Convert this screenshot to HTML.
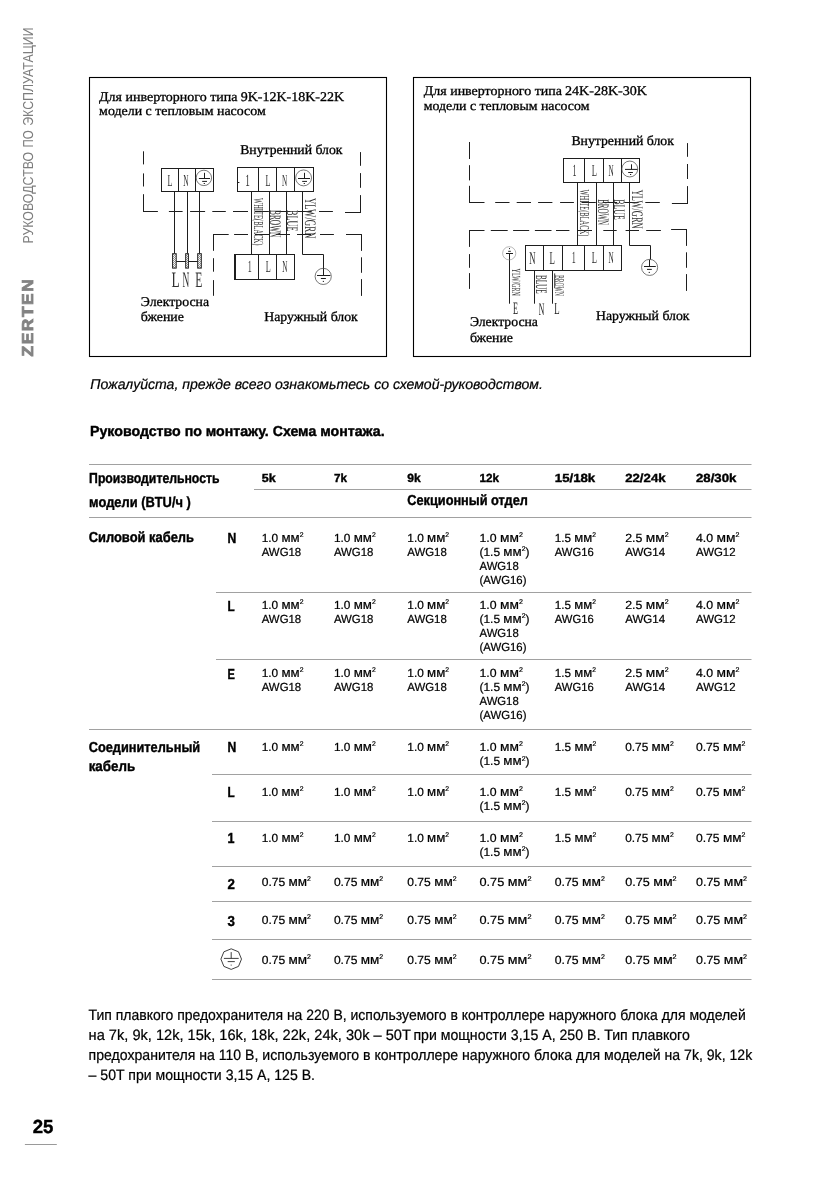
<!DOCTYPE html>
<html lang="ru">
<head>
<meta charset="utf-8">
<title>ZERTEN — Руководство по эксплуатации — 25</title>
<style>
html,body{margin:0;padding:0;background:#fff;}
body{width:839px;height:1191px;overflow:hidden;}
svg{display:block;will-change:transform;filter:grayscale(1);}
text{font-family:"Liberation Sans", sans-serif;white-space:pre;text-rendering:geometricPrecision;}
text.se{font-family:"Liberation Serif", serif;}
</style>
</head>
<body>
<svg width="839" height="1191" viewBox="0 0 839 1191" fill="#000">
<defs>
<pattern id="hatch" width="2" height="2" patternUnits="userSpaceOnUse"><rect width="2" height="2" fill="#fff"/><path d="M0 2L2 0" stroke="#666" stroke-width="0.7"/></pattern>
</defs>
<rect width="839" height="1191" fill="#fff"/>
<g id="sidebar">
<text transform="translate(32.9 243.6) rotate(-90)" font-size="14.4" fill="#7b7d80" textLength="91.8" lengthAdjust="spacingAndGlyphs">РУКОВОДСТВО</text>
<text transform="translate(32.9 147.4) rotate(-90)" font-size="14.4" fill="#7b7d80" textLength="17.2" lengthAdjust="spacingAndGlyphs">ПО</text>
<text transform="translate(32.9 125.8) rotate(-90)" font-size="14.4" fill="#7b7d80" textLength="98.4" lengthAdjust="spacingAndGlyphs">ЭКСПЛУАТАЦИИ</text>
<text transform="translate(33.1 356.4) rotate(-90)" font-size="15.8" font-weight="bold" fill="#808285" textLength="78.6" lengthAdjust="spacingAndGlyphs" letter-spacing="1.4" stroke="#808285" stroke-width="0.8">ZERTEN</text>
</g>
<g id="diagram-9k-22k" fill="none" stroke="#1c1e20">
<rect x="89.5" y="77.5" width="297" height="279" stroke="#000" stroke-width="1.1"/>
<rect x="161.5" y="168.5" width="52" height="23"/>
<path d="M178.5 168.5V191.5M195.5 168.5V191.5" />
<circle cx="203.9" cy="177.9" r="7.7" stroke="#4a4c4e" stroke-width="0.75"/>
<path d="M204.5 172.8V178.4M198.9 178.5H210M202.2 181.4H207M203.70000000000002 183.5H204.9"/>
<path d="M174.5 191.5V253.5M187.5 191.5V253.5M199.5 191.5V253.5" />
<rect x="172.6" y="253.7" width="3.6" height="14.4" fill="url(#hatch)"/>
<rect x="185.7" y="253.7" width="2.7" height="14.4" fill="url(#hatch)"/>
<rect x="197.7" y="253.7" width="3.6" height="14.4" fill="url(#hatch)"/>
<path d="M176.2 261.5H185.7M188.4 261.5H197.7" />
<rect x="237.5" y="167.5" width="76" height="24"/>
<path d="M258.5 167.5V191.5M276.5 167.5V191.5M294.5 167.5V191.5M238 182.5H239.4" />
<circle cx="303.6" cy="177.9" r="7.95" stroke="#4a4c4e" stroke-width="0.75"/>
<path d="M304.5 172.8V178.4M298 178.5H310M302.2 181.4H307M303.7 183.5H304.90000000000003"/>
<path d="M251.5 191.5V254.5M269.5 191.5V254.5M286.5 191.5V254.5" />
<path d="M302.5 191.5V254.5H323.5V275.5" />
<circle cx="323.2" cy="276.4" r="8.1" stroke="#4a4c4e" stroke-width="0.75"/>
<path d="M317 275.5H330.4M320.9 278.5H325.9M322.79999999999995 281.4H324.0"/>
<rect x="234.5" y="254.5" width="60" height="25"/>
<path d="M235.5 254.5V279.5M258.5 254.5V279.5M276.5 254.5V279.5" />
<path d="M143.5 151.3V164.4M143.5 173.4V186.5M143.5 194.2V211.5" />
<path d="M143 211.5H157.9M168.9 211.5H182.6M190.1 211.5H205.1M212.3 211.5H225.8M233 211.5H248M254.6 211.5H268.9M276 211.5H290.3M297.4 211.5H311.7M319 211.5H332.9" />
<path d="M345 212.5H361" />
<path d="M360.5 152.1V165.8M360.5 173.1V187.8M360.5 195.1V212.5" />
<path d="M213 234.5H228.7M234.1 234.5H248M255 234.5H269M276 234.5H290M297 234.5H311M320 234.5H333.9M346 234.5H361.9" />
<path d="M213.5 234.5V250.8M213.5 258.2V271.7M213.5 280.1V295.8" />
<path d="M361.5 234.5V250.9M361.5 257.3V272.8M361.5 279.1V295.9" />
</g>
<g id="diagram-9k-22k-text">
<text x="99.1" y="101.2" font-size="13.2" class="se" textLength="138.3" lengthAdjust="spacingAndGlyphs" stroke="#000" stroke-width="0.3">Для инверторного типа</text>
<text x="240.7" y="101.2" font-size="13.2" class="se" textLength="103.4" lengthAdjust="spacingAndGlyphs" stroke="#000" stroke-width="0.3">9K-12K-18K-22K</text>
<text x="99.1" y="115" font-size="13.2" class="se" textLength="166.6" lengthAdjust="spacingAndGlyphs" stroke="#000" stroke-width="0.3">модели с тепловым насосом</text>
<text x="240.2" y="153.9" font-size="13.5" class="se" textLength="102.3" lengthAdjust="spacingAndGlyphs" stroke="#000" stroke-width="0.3">Внутренний блок</text>
<text x="140.8" y="306.3" font-size="13.5" class="se" textLength="68.2" lengthAdjust="spacingAndGlyphs" stroke="#000" stroke-width="0.3">Электросна</text>
<text x="140.8" y="321.2" font-size="13.5" class="se" textLength="43" lengthAdjust="spacingAndGlyphs" stroke="#000" stroke-width="0.3">бжение</text>
<text x="264.2" y="321.2" font-size="13.5" class="se" textLength="93.6" lengthAdjust="spacingAndGlyphs" stroke="#000" stroke-width="0.3">Наружный блок</text>
<text x="167.6" y="185.8" font-size="17" class="se" fill="#303030" textLength="5" lengthAdjust="spacingAndGlyphs">L</text>
<text x="183.3" y="185.8" font-size="17" class="se" fill="#303030" textLength="5.3" lengthAdjust="spacingAndGlyphs">N</text>
<text x="171.6" y="286.8" font-size="22" class="se" fill="#303030" textLength="8.2" lengthAdjust="spacingAndGlyphs">L</text>
<text x="182.6" y="286.8" font-size="22" class="se" fill="#303030" textLength="6.8" lengthAdjust="spacingAndGlyphs">N</text>
<text x="195.2" y="286.8" font-size="22" class="se" fill="#303030" textLength="7.1" lengthAdjust="spacingAndGlyphs">E</text>
<text x="245.3" y="185.8" font-size="17" class="se" fill="#303030" textLength="4.6" lengthAdjust="spacingAndGlyphs">1</text>
<text x="265.5" y="185.8" font-size="17" class="se" fill="#303030" textLength="5" lengthAdjust="spacingAndGlyphs">L</text>
<text x="282" y="185.8" font-size="17" class="se" fill="#303030" textLength="5.2" lengthAdjust="spacingAndGlyphs">N</text>
<text x="247.8" y="271.6" font-size="17" class="se" fill="#303030" textLength="4" lengthAdjust="spacingAndGlyphs">1</text>
<text x="265.8" y="271.6" font-size="17" class="se" fill="#303030" textLength="5" lengthAdjust="spacingAndGlyphs">L</text>
<text x="282.2" y="271.6" font-size="17" class="se" fill="#303030" textLength="5.2" lengthAdjust="spacingAndGlyphs">N</text>
<text transform="translate(253.6 198) rotate(90)" font-size="13.7" class="se" fill="#303030" textLength="47.4" lengthAdjust="spacingAndGlyphs">WHITE(BLACK)</text>
<text transform="translate(270 210) rotate(90)" font-size="16" class="se" fill="#303030" textLength="27.4" lengthAdjust="spacingAndGlyphs">BROWN</text>
<text transform="translate(286.9 210) rotate(90)" font-size="16" class="se" fill="#303030" textLength="21.5" lengthAdjust="spacingAndGlyphs">BLUE</text>
<text transform="translate(305.4 198) rotate(90)" font-size="16" class="se" fill="#303030" textLength="40.4" lengthAdjust="spacingAndGlyphs">YLW/GRN</text>
</g>
<g id="diagram-24k-30k" fill="none" stroke="#1c1e20">
<rect x="413.5" y="77.5" width="337" height="279" stroke="#000" stroke-width="1.1"/>
<rect x="563.5" y="158.5" width="76" height="24"/>
<path d="M584.5 158.5V182.5M603.5 158.5V182.5M621.5 158.5V182.5" />
<circle cx="629.8" cy="169" r="7.95" stroke="#4a4c4e" stroke-width="0.75"/>
<path d="M631.5 164.3V169.3M625 169.4H637.5M628.2 172.5H632.9M630.0 174.5H631.2"/>
<path d="M577.5 182.5V245.5M596.5 182.5V245.5M613.5 182.5V245.5" />
<path d="M629.5 182.5V245.5H650.5V259.5M649.5 259.5V266.5" />
<circle cx="649.6" cy="267.4" r="8.05" stroke="#4a4c4e" stroke-width="0.75"/>
<path d="M644 266.5H655.8M647 269.4H651.8M648.6999999999999 272.4H649.9"/>
<rect x="525.5" y="245.5" width="96" height="25"/>
<path d="M543.5 245.5V270.5M562.5 245.5V270.5M584.5 245.5V270.5M603.5 245.5V270.5" />
<path d="M534.5 270.5V303.7M552.5 270.5V303.7M509.5 253.5V303.7" />
<path d="M554.7 273.4V288.2"  stroke-width="0.9"/>
<circle cx="509.2" cy="253.3" r="6.6" stroke="#8a8a8a" stroke-width="0.6"/>
<path d="M506 253.5H513M508.2 251.3H510.8M509 248.6H510" />
<path d="M469.5 142V159M469.5 165.2V180.4M469.5 185.8V202.5" />
<path d="M469 202.5H484.5M495.2 202.5H509.5M516.7 202.5H531M538.1 202.5H552.4M560.1 202.5H573.9M581.5 202.5H595.8M602.9 202.5H617.2M624.3 202.5H638.6M645.3 202.5H659.8" />
<path d="M671.9 203.5H688" />
<path d="M687.5 143.1V156.8M687.5 164V179M687.5 186.1V203.5" />
<path d="M469 230.5H484.5M490.8 230.5H507.7M513.1 230.5H529.2M534.9 230.5H551.5M556 230.5H569.4M577.5 230.5H592M603.3 230.5H616.7M625.6 230.5H639M646.2 230.5H660.9" />
<path d="M671.1 229.5H687" />
<path d="M469.5 230.5V246.9M469.5 254.1V267.8M469.5 273.1V288.9" />
<path d="M686.5 229.5V245.9M686.5 252.3V267.8M686.5 274.1V290.9" />
</g>
<g id="diagram-24k-30k-text">
<text x="423.8" y="95" font-size="13.2" class="se" textLength="138.1" lengthAdjust="spacingAndGlyphs" stroke="#000" stroke-width="0.3">Для инверторного типа</text>
<text x="565" y="95" font-size="13.2" class="se" textLength="82" lengthAdjust="spacingAndGlyphs" stroke="#000" stroke-width="0.3">24K-28K-30K</text>
<text x="423.8" y="109.7" font-size="13.2" class="se" textLength="165.6" lengthAdjust="spacingAndGlyphs" stroke="#000" stroke-width="0.3">модели с тепловым насосом</text>
<text x="571.4" y="144.7" font-size="13.5" class="se" textLength="102.5" lengthAdjust="spacingAndGlyphs" stroke="#000" stroke-width="0.3">Внутренний блок</text>
<text x="469.9" y="326.4" font-size="13.5" class="se" textLength="68" lengthAdjust="spacingAndGlyphs" stroke="#000" stroke-width="0.3">Электросна</text>
<text x="469.9" y="341.5" font-size="13.5" class="se" textLength="43" lengthAdjust="spacingAndGlyphs" stroke="#000" stroke-width="0.3">бжение</text>
<text x="596" y="319.6" font-size="13.5" class="se" textLength="93.5" lengthAdjust="spacingAndGlyphs" stroke="#000" stroke-width="0.3">Наружный блок</text>
<text x="572.6" y="176" font-size="17" class="se" fill="#303030" textLength="4" lengthAdjust="spacingAndGlyphs">1</text>
<text x="591.7" y="176" font-size="17" class="se" fill="#303030" textLength="5.2" lengthAdjust="spacingAndGlyphs">L</text>
<text x="608.6" y="176" font-size="17" class="se" fill="#303030" textLength="5.2" lengthAdjust="spacingAndGlyphs">N</text>
<text x="529.2" y="263.5" font-size="18" class="se" fill="#303030" textLength="6.3" lengthAdjust="spacingAndGlyphs">N</text>
<text x="549.4" y="263.5" font-size="18" class="se" fill="#303030" textLength="5.4" lengthAdjust="spacingAndGlyphs">L</text>
<text x="571.8" y="263.3" font-size="17" class="se" fill="#303030" textLength="4" lengthAdjust="spacingAndGlyphs">1</text>
<text x="591.8" y="263.3" font-size="17" class="se" fill="#303030" textLength="5.2" lengthAdjust="spacingAndGlyphs">L</text>
<text x="608.6" y="263.3" font-size="17" class="se" fill="#303030" textLength="5.2" lengthAdjust="spacingAndGlyphs">N</text>
<text transform="translate(580 189.4) rotate(90)" font-size="13.7" class="se" fill="#303030" textLength="47" lengthAdjust="spacingAndGlyphs">WHITE(BLACK)</text>
<text transform="translate(597.9 199.2) rotate(90)" font-size="16" class="se" fill="#303030" textLength="25.9" lengthAdjust="spacingAndGlyphs">BROWN</text>
<text transform="translate(614.2 199.2) rotate(90)" font-size="16" class="se" fill="#303030" textLength="20.6" lengthAdjust="spacingAndGlyphs">BLUE</text>
<text transform="translate(632.2 189.7) rotate(90)" font-size="16" class="se" fill="#303030" textLength="39" lengthAdjust="spacingAndGlyphs">YLW/GRN</text>
<text transform="translate(512.2 268.6) rotate(90)" font-size="12.4" class="se" fill="#303030" textLength="27.2" lengthAdjust="spacingAndGlyphs">YLW/GRN</text>
<text transform="translate(536.4 274.9) rotate(90)" font-size="16" class="se" fill="#303030" textLength="18.8" lengthAdjust="spacingAndGlyphs">BLUE</text>
<text transform="translate(554.6 274.9) rotate(90)" font-size="13.4" class="se" fill="#303030" textLength="20.9" lengthAdjust="spacingAndGlyphs">BROWN</text>
<text x="512.9" y="313.9" font-size="17.5" class="se" fill="#222" textLength="5" lengthAdjust="spacingAndGlyphs">E</text>
<text x="538.8" y="314.6" font-size="17.5" class="se" fill="#222" textLength="5.6" lengthAdjust="spacingAndGlyphs">N</text>
<text x="554.3" y="314.4" font-size="17" class="se" fill="#222" textLength="5.4" lengthAdjust="spacingAndGlyphs">L</text>
</g>
<g id="captions">
<text x="90.3" y="388.7" font-size="14.2" font-style="italic" textLength="452.6" lengthAdjust="spacingAndGlyphs" stroke="#000" stroke-width="0.22">Пожалуйста, прежде всего ознакомьтесь со схемой-руководством.</text>
<text x="90" y="435.8" font-size="14.5" font-weight="bold" textLength="294.6" lengthAdjust="spacingAndGlyphs" stroke="#000" stroke-width="0.4">Руководство по монтажу. Схема монтажа.</text>
</g>
<g id="table">
<g stroke="#9fa1a7" fill="none">
<path d="M89 464.5H751.5M254 489.5H751.5M89 517.5H751.5M216 592.5H751.5M216 659.5H751.5M89 729.5H751.5M212 774.5H751.5M212 821.5H751.5M212 866.5H751.5M212 901.5H751.5M212 939.5H751.5M212 979.5H751.5" />
</g>
<text x="89.1" y="482.7" font-size="14.5" font-weight="bold" textLength="130.4" lengthAdjust="spacingAndGlyphs" stroke="#000" stroke-width="0.4">Производительность</text>
<text x="89.1" y="507.2" font-size="14.5" font-weight="bold" textLength="101.7" lengthAdjust="spacingAndGlyphs" stroke="#000" stroke-width="0.4">модели (BTU/ч )</text>
<text x="261.7" y="481.7" font-size="11.8" font-weight="bold" textLength="13.9" lengthAdjust="spacingAndGlyphs" stroke="#000" stroke-width="0.4">5k</text>
<text x="333.9" y="481.7" font-size="11.8" font-weight="bold" textLength="13" lengthAdjust="spacingAndGlyphs" stroke="#000" stroke-width="0.4">7k</text>
<text x="407.3" y="481.7" font-size="11.8" font-weight="bold" textLength="13.4" lengthAdjust="spacingAndGlyphs" stroke="#000" stroke-width="0.4">9k</text>
<text x="479.5" y="481.7" font-size="11.8" font-weight="bold" textLength="19.6" lengthAdjust="spacingAndGlyphs" stroke="#000" stroke-width="0.4">12k</text>
<text x="554.8" y="481.7" font-size="11.8" font-weight="bold" textLength="40.4" lengthAdjust="spacingAndGlyphs" stroke="#000" stroke-width="0.4">15/18k</text>
<text x="625.2" y="481.7" font-size="11.8" font-weight="bold" textLength="40.4" lengthAdjust="spacingAndGlyphs" stroke="#000" stroke-width="0.4">22/24k</text>
<text x="696" y="481.7" font-size="11.8" font-weight="bold" textLength="40.4" lengthAdjust="spacingAndGlyphs" stroke="#000" stroke-width="0.4">28/30k</text>
<text x="407.3" y="505.2" font-size="14.5" font-weight="bold" textLength="120.6" lengthAdjust="spacingAndGlyphs" stroke="#000" stroke-width="0.4">Секционный отдел</text>
<text x="88.7" y="542.3" font-size="14.5" font-weight="bold" textLength="105.3" lengthAdjust="spacingAndGlyphs" stroke="#000" stroke-width="0.4">Силовой кабель</text>
<text x="88.7" y="751.6" font-size="14.5" font-weight="bold" textLength="111.5" lengthAdjust="spacingAndGlyphs" stroke="#000" stroke-width="0.4">Соединительный</text>
<text x="88.7" y="771.1" font-size="14.5" font-weight="bold" textLength="46.5" lengthAdjust="spacingAndGlyphs" stroke="#000" stroke-width="0.4">кабель</text>
<text x="227.6" y="542.5" font-size="14.5" font-weight="bold" textLength="8.8" lengthAdjust="spacingAndGlyphs" stroke="#000" stroke-width="0.4">N</text>
<text x="227.6" y="610.5" font-size="14.5" font-weight="bold" textLength="7.2" lengthAdjust="spacingAndGlyphs" stroke="#000" stroke-width="0.4">L</text>
<text x="227.6" y="678.8" font-size="14.5" font-weight="bold" textLength="7.4" lengthAdjust="spacingAndGlyphs" stroke="#000" stroke-width="0.4">E</text>
<text x="227.6" y="751.8" font-size="14.5" font-weight="bold" textLength="8.8" lengthAdjust="spacingAndGlyphs" stroke="#000" stroke-width="0.4">N</text>
<text x="227.6" y="796.7" font-size="14.5" font-weight="bold" textLength="7.2" lengthAdjust="spacingAndGlyphs" stroke="#000" stroke-width="0.4">L</text>
<text x="227.6" y="842.6" font-size="14.5" font-weight="bold" textLength="7" lengthAdjust="spacingAndGlyphs" stroke="#000" stroke-width="0.4">1</text>
<text x="227.6" y="888.6" font-size="14.5" font-weight="bold" textLength="7.4" lengthAdjust="spacingAndGlyphs" stroke="#000" stroke-width="0.4">2</text>
<text x="227.6" y="925.6" font-size="14.5" font-weight="bold" textLength="7.4" lengthAdjust="spacingAndGlyphs" stroke="#000" stroke-width="0.4">3</text>
<g stroke="#2a2a2a" stroke-width="0.9" fill="none"><polygon points="231.2,948.8 238.5,951.8 241.5,959.1 238.5,966.4 231.2,969.4 223.9,966.4 220.9,959.1 223.9,951.8"/><path d="M231.2 952.1V958.4M223.89999999999998 958.4H238.7M227.7 961.6H234.79999999999998M230.7 965.1H231.7"/></g>
<text x="261.7" y="541.7" font-size="11.8" textLength="41.8" lengthAdjust="spacingAndGlyphs" stroke="#000" stroke-width="0.22">1.0 <tspan font-size="13.2">мм</tspan><tspan font-size="6.8" dy="-4.6">2</tspan></text>
<text x="261.7" y="555.8" font-size="11.8" textLength="39.5" lengthAdjust="spacingAndGlyphs" stroke="#000" stroke-width="0.22">AWG18</text>
<text x="333.9" y="541.7" font-size="11.8" textLength="41.8" lengthAdjust="spacingAndGlyphs" stroke="#000" stroke-width="0.22">1.0 <tspan font-size="13.2">мм</tspan><tspan font-size="6.8" dy="-4.6">2</tspan></text>
<text x="333.9" y="555.8" font-size="11.8" textLength="39.5" lengthAdjust="spacingAndGlyphs" stroke="#000" stroke-width="0.22">AWG18</text>
<text x="407.3" y="541.7" font-size="11.8" textLength="41.8" lengthAdjust="spacingAndGlyphs" stroke="#000" stroke-width="0.22">1.0 <tspan font-size="13.2">мм</tspan><tspan font-size="6.8" dy="-4.6">2</tspan></text>
<text x="407.3" y="555.8" font-size="11.8" textLength="39.5" lengthAdjust="spacingAndGlyphs" stroke="#000" stroke-width="0.22">AWG18</text>
<text x="479.5" y="541.7" font-size="11.8" textLength="43.4" lengthAdjust="spacingAndGlyphs" stroke="#000" stroke-width="0.22">1.0 <tspan font-size="13.2">мм</tspan><tspan font-size="6.8" dy="-4.6">2</tspan></text>
<text x="479.5" y="555.8" font-size="11.8" textLength="50" lengthAdjust="spacingAndGlyphs" stroke="#000" stroke-width="0.22">(1.5 <tspan font-size="13.2">мм</tspan><tspan font-size="6.8" dy="-4.6">2</tspan><tspan dy="4.6">)</tspan></text>
<text x="479.5" y="569.9" font-size="11.8" textLength="39.2" lengthAdjust="spacingAndGlyphs" stroke="#000" stroke-width="0.22">AWG18</text>
<text x="479.5" y="584.0" font-size="11.8" textLength="47" lengthAdjust="spacingAndGlyphs" stroke="#000" stroke-width="0.22">(AWG16)</text>
<text x="554.8" y="541.7" font-size="11.8" textLength="41.2" lengthAdjust="spacingAndGlyphs" stroke="#000" stroke-width="0.22">1.5 <tspan font-size="13.2">мм</tspan><tspan font-size="6.8" dy="-4.6">2</tspan></text>
<text x="554.8" y="555.8" font-size="11.8" textLength="38.9" lengthAdjust="spacingAndGlyphs" stroke="#000" stroke-width="0.22">AWG16</text>
<text x="625.2" y="541.7" font-size="11.8" textLength="43.4" lengthAdjust="spacingAndGlyphs" stroke="#000" stroke-width="0.22">2.5 <tspan font-size="13.2">мм</tspan><tspan font-size="6.8" dy="-4.6">2</tspan></text>
<text x="625.2" y="555.8" font-size="11.8" textLength="40" lengthAdjust="spacingAndGlyphs" stroke="#000" stroke-width="0.22">AWG14</text>
<text x="696" y="541.7" font-size="11.8" textLength="43.5" lengthAdjust="spacingAndGlyphs" stroke="#000" stroke-width="0.22">4.0 <tspan font-size="13.2">мм</tspan><tspan font-size="6.8" dy="-4.6">2</tspan></text>
<text x="696" y="555.8" font-size="11.8" textLength="39.5" lengthAdjust="spacingAndGlyphs" stroke="#000" stroke-width="0.22">AWG12</text>
<text x="261.7" y="608.9" font-size="11.8" textLength="41.8" lengthAdjust="spacingAndGlyphs" stroke="#000" stroke-width="0.22">1.0 <tspan font-size="13.2">мм</tspan><tspan font-size="6.8" dy="-4.6">2</tspan></text>
<text x="261.7" y="623.0" font-size="11.8" textLength="39.5" lengthAdjust="spacingAndGlyphs" stroke="#000" stroke-width="0.22">AWG18</text>
<text x="333.9" y="608.9" font-size="11.8" textLength="41.8" lengthAdjust="spacingAndGlyphs" stroke="#000" stroke-width="0.22">1.0 <tspan font-size="13.2">мм</tspan><tspan font-size="6.8" dy="-4.6">2</tspan></text>
<text x="333.9" y="623.0" font-size="11.8" textLength="39.5" lengthAdjust="spacingAndGlyphs" stroke="#000" stroke-width="0.22">AWG18</text>
<text x="407.3" y="608.9" font-size="11.8" textLength="41.8" lengthAdjust="spacingAndGlyphs" stroke="#000" stroke-width="0.22">1.0 <tspan font-size="13.2">мм</tspan><tspan font-size="6.8" dy="-4.6">2</tspan></text>
<text x="407.3" y="623.0" font-size="11.8" textLength="39.5" lengthAdjust="spacingAndGlyphs" stroke="#000" stroke-width="0.22">AWG18</text>
<text x="479.5" y="608.9" font-size="11.8" textLength="43.4" lengthAdjust="spacingAndGlyphs" stroke="#000" stroke-width="0.22">1.0 <tspan font-size="13.2">мм</tspan><tspan font-size="6.8" dy="-4.6">2</tspan></text>
<text x="479.5" y="623.0" font-size="11.8" textLength="50" lengthAdjust="spacingAndGlyphs" stroke="#000" stroke-width="0.22">(1.5 <tspan font-size="13.2">мм</tspan><tspan font-size="6.8" dy="-4.6">2</tspan><tspan dy="4.6">)</tspan></text>
<text x="479.5" y="637.1" font-size="11.8" textLength="39.2" lengthAdjust="spacingAndGlyphs" stroke="#000" stroke-width="0.22">AWG18</text>
<text x="479.5" y="651.2" font-size="11.8" textLength="47" lengthAdjust="spacingAndGlyphs" stroke="#000" stroke-width="0.22">(AWG16)</text>
<text x="554.8" y="608.9" font-size="11.8" textLength="41.2" lengthAdjust="spacingAndGlyphs" stroke="#000" stroke-width="0.22">1.5 <tspan font-size="13.2">мм</tspan><tspan font-size="6.8" dy="-4.6">2</tspan></text>
<text x="554.8" y="623.0" font-size="11.8" textLength="38.9" lengthAdjust="spacingAndGlyphs" stroke="#000" stroke-width="0.22">AWG16</text>
<text x="625.2" y="608.9" font-size="11.8" textLength="43.4" lengthAdjust="spacingAndGlyphs" stroke="#000" stroke-width="0.22">2.5 <tspan font-size="13.2">мм</tspan><tspan font-size="6.8" dy="-4.6">2</tspan></text>
<text x="625.2" y="623.0" font-size="11.8" textLength="40" lengthAdjust="spacingAndGlyphs" stroke="#000" stroke-width="0.22">AWG14</text>
<text x="696" y="608.9" font-size="11.8" textLength="43.5" lengthAdjust="spacingAndGlyphs" stroke="#000" stroke-width="0.22">4.0 <tspan font-size="13.2">мм</tspan><tspan font-size="6.8" dy="-4.6">2</tspan></text>
<text x="696" y="623.0" font-size="11.8" textLength="39.5" lengthAdjust="spacingAndGlyphs" stroke="#000" stroke-width="0.22">AWG12</text>
<text x="261.7" y="676.5" font-size="11.8" textLength="41.8" lengthAdjust="spacingAndGlyphs" stroke="#000" stroke-width="0.22">1.0 <tspan font-size="13.2">мм</tspan><tspan font-size="6.8" dy="-4.6">2</tspan></text>
<text x="261.7" y="690.6" font-size="11.8" textLength="39.5" lengthAdjust="spacingAndGlyphs" stroke="#000" stroke-width="0.22">AWG18</text>
<text x="333.9" y="676.5" font-size="11.8" textLength="41.8" lengthAdjust="spacingAndGlyphs" stroke="#000" stroke-width="0.22">1.0 <tspan font-size="13.2">мм</tspan><tspan font-size="6.8" dy="-4.6">2</tspan></text>
<text x="333.9" y="690.6" font-size="11.8" textLength="39.5" lengthAdjust="spacingAndGlyphs" stroke="#000" stroke-width="0.22">AWG18</text>
<text x="407.3" y="676.5" font-size="11.8" textLength="41.8" lengthAdjust="spacingAndGlyphs" stroke="#000" stroke-width="0.22">1.0 <tspan font-size="13.2">мм</tspan><tspan font-size="6.8" dy="-4.6">2</tspan></text>
<text x="407.3" y="690.6" font-size="11.8" textLength="39.5" lengthAdjust="spacingAndGlyphs" stroke="#000" stroke-width="0.22">AWG18</text>
<text x="479.5" y="676.5" font-size="11.8" textLength="43.4" lengthAdjust="spacingAndGlyphs" stroke="#000" stroke-width="0.22">1.0 <tspan font-size="13.2">мм</tspan><tspan font-size="6.8" dy="-4.6">2</tspan></text>
<text x="479.5" y="690.6" font-size="11.8" textLength="50" lengthAdjust="spacingAndGlyphs" stroke="#000" stroke-width="0.22">(1.5 <tspan font-size="13.2">мм</tspan><tspan font-size="6.8" dy="-4.6">2</tspan><tspan dy="4.6">)</tspan></text>
<text x="479.5" y="704.7" font-size="11.8" textLength="39.2" lengthAdjust="spacingAndGlyphs" stroke="#000" stroke-width="0.22">AWG18</text>
<text x="479.5" y="718.8" font-size="11.8" textLength="47" lengthAdjust="spacingAndGlyphs" stroke="#000" stroke-width="0.22">(AWG16)</text>
<text x="554.8" y="676.5" font-size="11.8" textLength="41.2" lengthAdjust="spacingAndGlyphs" stroke="#000" stroke-width="0.22">1.5 <tspan font-size="13.2">мм</tspan><tspan font-size="6.8" dy="-4.6">2</tspan></text>
<text x="554.8" y="690.6" font-size="11.8" textLength="38.9" lengthAdjust="spacingAndGlyphs" stroke="#000" stroke-width="0.22">AWG16</text>
<text x="625.2" y="676.5" font-size="11.8" textLength="43.4" lengthAdjust="spacingAndGlyphs" stroke="#000" stroke-width="0.22">2.5 <tspan font-size="13.2">мм</tspan><tspan font-size="6.8" dy="-4.6">2</tspan></text>
<text x="625.2" y="690.6" font-size="11.8" textLength="40" lengthAdjust="spacingAndGlyphs" stroke="#000" stroke-width="0.22">AWG14</text>
<text x="696" y="676.5" font-size="11.8" textLength="43.5" lengthAdjust="spacingAndGlyphs" stroke="#000" stroke-width="0.22">4.0 <tspan font-size="13.2">мм</tspan><tspan font-size="6.8" dy="-4.6">2</tspan></text>
<text x="696" y="690.6" font-size="11.8" textLength="39.5" lengthAdjust="spacingAndGlyphs" stroke="#000" stroke-width="0.22">AWG12</text>
<text x="261.7" y="751.0" font-size="11.8" textLength="41.8" lengthAdjust="spacingAndGlyphs" stroke="#000" stroke-width="0.22">1.0 <tspan font-size="13.2">мм</tspan><tspan font-size="6.8" dy="-4.6">2</tspan></text>
<text x="333.9" y="751.0" font-size="11.8" textLength="41.8" lengthAdjust="spacingAndGlyphs" stroke="#000" stroke-width="0.22">1.0 <tspan font-size="13.2">мм</tspan><tspan font-size="6.8" dy="-4.6">2</tspan></text>
<text x="407.3" y="751.0" font-size="11.8" textLength="41.8" lengthAdjust="spacingAndGlyphs" stroke="#000" stroke-width="0.22">1.0 <tspan font-size="13.2">мм</tspan><tspan font-size="6.8" dy="-4.6">2</tspan></text>
<text x="479.5" y="751.0" font-size="11.8" textLength="43.4" lengthAdjust="spacingAndGlyphs" stroke="#000" stroke-width="0.22">1.0 <tspan font-size="13.2">мм</tspan><tspan font-size="6.8" dy="-4.6">2</tspan></text>
<text x="479.5" y="765.1" font-size="11.8" textLength="50" lengthAdjust="spacingAndGlyphs" stroke="#000" stroke-width="0.22">(1.5 <tspan font-size="13.2">мм</tspan><tspan font-size="6.8" dy="-4.6">2</tspan><tspan dy="4.6">)</tspan></text>
<text x="554.8" y="751.0" font-size="11.8" textLength="41.5" lengthAdjust="spacingAndGlyphs" stroke="#000" stroke-width="0.22">1.5 <tspan font-size="13.2">мм</tspan><tspan font-size="6.8" dy="-4.6">2</tspan></text>
<text x="625.2" y="751.0" font-size="11.8" textLength="48.5" lengthAdjust="spacingAndGlyphs" stroke="#000" stroke-width="0.22">0.75 <tspan font-size="13.2">мм</tspan><tspan font-size="6.8" dy="-4.6">2</tspan></text>
<text x="696" y="751.0" font-size="11.8" textLength="49.5" lengthAdjust="spacingAndGlyphs" stroke="#000" stroke-width="0.22">0.75 <tspan font-size="13.2">мм</tspan><tspan font-size="6.8" dy="-4.6">2</tspan></text>
<text x="261.7" y="795.9" font-size="11.8" textLength="41.8" lengthAdjust="spacingAndGlyphs" stroke="#000" stroke-width="0.22">1.0 <tspan font-size="13.2">мм</tspan><tspan font-size="6.8" dy="-4.6">2</tspan></text>
<text x="333.9" y="795.9" font-size="11.8" textLength="41.8" lengthAdjust="spacingAndGlyphs" stroke="#000" stroke-width="0.22">1.0 <tspan font-size="13.2">мм</tspan><tspan font-size="6.8" dy="-4.6">2</tspan></text>
<text x="407.3" y="795.9" font-size="11.8" textLength="41.8" lengthAdjust="spacingAndGlyphs" stroke="#000" stroke-width="0.22">1.0 <tspan font-size="13.2">мм</tspan><tspan font-size="6.8" dy="-4.6">2</tspan></text>
<text x="479.5" y="795.9" font-size="11.8" textLength="43.4" lengthAdjust="spacingAndGlyphs" stroke="#000" stroke-width="0.22">1.0 <tspan font-size="13.2">мм</tspan><tspan font-size="6.8" dy="-4.6">2</tspan></text>
<text x="479.5" y="810.0" font-size="11.8" textLength="50" lengthAdjust="spacingAndGlyphs" stroke="#000" stroke-width="0.22">(1.5 <tspan font-size="13.2">мм</tspan><tspan font-size="6.8" dy="-4.6">2</tspan><tspan dy="4.6">)</tspan></text>
<text x="554.8" y="795.9" font-size="11.8" textLength="41.5" lengthAdjust="spacingAndGlyphs" stroke="#000" stroke-width="0.22">1.5 <tspan font-size="13.2">мм</tspan><tspan font-size="6.8" dy="-4.6">2</tspan></text>
<text x="625.2" y="795.9" font-size="11.8" textLength="48.5" lengthAdjust="spacingAndGlyphs" stroke="#000" stroke-width="0.22">0.75 <tspan font-size="13.2">мм</tspan><tspan font-size="6.8" dy="-4.6">2</tspan></text>
<text x="696" y="795.9" font-size="11.8" textLength="49.5" lengthAdjust="spacingAndGlyphs" stroke="#000" stroke-width="0.22">0.75 <tspan font-size="13.2">мм</tspan><tspan font-size="6.8" dy="-4.6">2</tspan></text>
<text x="261.7" y="841.5" font-size="11.8" textLength="41.8" lengthAdjust="spacingAndGlyphs" stroke="#000" stroke-width="0.22">1.0 <tspan font-size="13.2">мм</tspan><tspan font-size="6.8" dy="-4.6">2</tspan></text>
<text x="333.9" y="841.5" font-size="11.8" textLength="41.8" lengthAdjust="spacingAndGlyphs" stroke="#000" stroke-width="0.22">1.0 <tspan font-size="13.2">мм</tspan><tspan font-size="6.8" dy="-4.6">2</tspan></text>
<text x="407.3" y="841.5" font-size="11.8" textLength="41.8" lengthAdjust="spacingAndGlyphs" stroke="#000" stroke-width="0.22">1.0 <tspan font-size="13.2">мм</tspan><tspan font-size="6.8" dy="-4.6">2</tspan></text>
<text x="479.5" y="841.5" font-size="11.8" textLength="43.4" lengthAdjust="spacingAndGlyphs" stroke="#000" stroke-width="0.22">1.0 <tspan font-size="13.2">мм</tspan><tspan font-size="6.8" dy="-4.6">2</tspan></text>
<text x="479.5" y="855.6" font-size="11.8" textLength="50" lengthAdjust="spacingAndGlyphs" stroke="#000" stroke-width="0.22">(1.5 <tspan font-size="13.2">мм</tspan><tspan font-size="6.8" dy="-4.6">2</tspan><tspan dy="4.6">)</tspan></text>
<text x="554.8" y="841.5" font-size="11.8" textLength="41.5" lengthAdjust="spacingAndGlyphs" stroke="#000" stroke-width="0.22">1.5 <tspan font-size="13.2">мм</tspan><tspan font-size="6.8" dy="-4.6">2</tspan></text>
<text x="625.2" y="841.5" font-size="11.8" textLength="48.5" lengthAdjust="spacingAndGlyphs" stroke="#000" stroke-width="0.22">0.75 <tspan font-size="13.2">мм</tspan><tspan font-size="6.8" dy="-4.6">2</tspan></text>
<text x="696" y="841.5" font-size="11.8" textLength="49.5" lengthAdjust="spacingAndGlyphs" stroke="#000" stroke-width="0.22">0.75 <tspan font-size="13.2">мм</tspan><tspan font-size="6.8" dy="-4.6">2</tspan></text>
<text x="261.7" y="885.8" font-size="11.8" textLength="49.3" lengthAdjust="spacingAndGlyphs" stroke="#000" stroke-width="0.22">0.75 <tspan font-size="13.2">мм</tspan><tspan font-size="6.8" dy="-4.6">2</tspan></text>
<text x="333.9" y="885.8" font-size="11.8" textLength="49.3" lengthAdjust="spacingAndGlyphs" stroke="#000" stroke-width="0.22">0.75 <tspan font-size="13.2">мм</tspan><tspan font-size="6.8" dy="-4.6">2</tspan></text>
<text x="407.3" y="885.8" font-size="11.8" textLength="49.3" lengthAdjust="spacingAndGlyphs" stroke="#000" stroke-width="0.22">0.75 <tspan font-size="13.2">мм</tspan><tspan font-size="6.8" dy="-4.6">2</tspan></text>
<text x="479.5" y="885.8" font-size="11.8" textLength="52" lengthAdjust="spacingAndGlyphs" stroke="#000" stroke-width="0.22">0.75 <tspan font-size="13.2">мм</tspan><tspan font-size="6.8" dy="-4.6">2</tspan></text>
<text x="554.8" y="885.8" font-size="11.8" textLength="50" lengthAdjust="spacingAndGlyphs" stroke="#000" stroke-width="0.22">0.75 <tspan font-size="13.2">мм</tspan><tspan font-size="6.8" dy="-4.6">2</tspan></text>
<text x="625.2" y="885.8" font-size="11.8" textLength="51.4" lengthAdjust="spacingAndGlyphs" stroke="#000" stroke-width="0.22">0.75 <tspan font-size="13.2">мм</tspan><tspan font-size="6.8" dy="-4.6">2</tspan></text>
<text x="696" y="885.8" font-size="11.8" textLength="51" lengthAdjust="spacingAndGlyphs" stroke="#000" stroke-width="0.22">0.75 <tspan font-size="13.2">мм</tspan><tspan font-size="6.8" dy="-4.6">2</tspan></text>
<text x="261.7" y="923.9" font-size="11.8" textLength="49.3" lengthAdjust="spacingAndGlyphs" stroke="#000" stroke-width="0.22">0.75 <tspan font-size="13.2">мм</tspan><tspan font-size="6.8" dy="-4.6">2</tspan></text>
<text x="333.9" y="923.9" font-size="11.8" textLength="49.3" lengthAdjust="spacingAndGlyphs" stroke="#000" stroke-width="0.22">0.75 <tspan font-size="13.2">мм</tspan><tspan font-size="6.8" dy="-4.6">2</tspan></text>
<text x="407.3" y="923.9" font-size="11.8" textLength="49.3" lengthAdjust="spacingAndGlyphs" stroke="#000" stroke-width="0.22">0.75 <tspan font-size="13.2">мм</tspan><tspan font-size="6.8" dy="-4.6">2</tspan></text>
<text x="479.5" y="923.9" font-size="11.8" textLength="52" lengthAdjust="spacingAndGlyphs" stroke="#000" stroke-width="0.22">0.75 <tspan font-size="13.2">мм</tspan><tspan font-size="6.8" dy="-4.6">2</tspan></text>
<text x="554.8" y="923.9" font-size="11.8" textLength="50" lengthAdjust="spacingAndGlyphs" stroke="#000" stroke-width="0.22">0.75 <tspan font-size="13.2">мм</tspan><tspan font-size="6.8" dy="-4.6">2</tspan></text>
<text x="625.2" y="923.9" font-size="11.8" textLength="51.4" lengthAdjust="spacingAndGlyphs" stroke="#000" stroke-width="0.22">0.75 <tspan font-size="13.2">мм</tspan><tspan font-size="6.8" dy="-4.6">2</tspan></text>
<text x="696" y="923.9" font-size="11.8" textLength="51" lengthAdjust="spacingAndGlyphs" stroke="#000" stroke-width="0.22">0.75 <tspan font-size="13.2">мм</tspan><tspan font-size="6.8" dy="-4.6">2</tspan></text>
<text x="261.7" y="963.7" font-size="11.8" textLength="49.3" lengthAdjust="spacingAndGlyphs" stroke="#000" stroke-width="0.22">0.75 <tspan font-size="13.2">мм</tspan><tspan font-size="6.8" dy="-4.6">2</tspan></text>
<text x="333.9" y="963.7" font-size="11.8" textLength="49.3" lengthAdjust="spacingAndGlyphs" stroke="#000" stroke-width="0.22">0.75 <tspan font-size="13.2">мм</tspan><tspan font-size="6.8" dy="-4.6">2</tspan></text>
<text x="407.3" y="963.7" font-size="11.8" textLength="49.3" lengthAdjust="spacingAndGlyphs" stroke="#000" stroke-width="0.22">0.75 <tspan font-size="13.2">мм</tspan><tspan font-size="6.8" dy="-4.6">2</tspan></text>
<text x="479.5" y="963.7" font-size="11.8" textLength="52" lengthAdjust="spacingAndGlyphs" stroke="#000" stroke-width="0.22">0.75 <tspan font-size="13.2">мм</tspan><tspan font-size="6.8" dy="-4.6">2</tspan></text>
<text x="554.8" y="963.7" font-size="11.8" textLength="50" lengthAdjust="spacingAndGlyphs" stroke="#000" stroke-width="0.22">0.75 <tspan font-size="13.2">мм</tspan><tspan font-size="6.8" dy="-4.6">2</tspan></text>
<text x="625.2" y="963.7" font-size="11.8" textLength="51.4" lengthAdjust="spacingAndGlyphs" stroke="#000" stroke-width="0.22">0.75 <tspan font-size="13.2">мм</tspan><tspan font-size="6.8" dy="-4.6">2</tspan></text>
<text x="696" y="963.7" font-size="11.8" textLength="51" lengthAdjust="spacingAndGlyphs" stroke="#000" stroke-width="0.22">0.75 <tspan font-size="13.2">мм</tspan><tspan font-size="6.8" dy="-4.6">2</tspan></text>
</g>
<g id="note">
<text x="88.6" y="1020" font-size="15" textLength="657.1" lengthAdjust="spacingAndGlyphs" stroke="#000" stroke-width="0.22">Тип плавкого предохранителя на 220 В, используемого в контроллере наружного блока для моделей</text>
<text x="88.6" y="1040" font-size="15" textLength="322.3" lengthAdjust="spacingAndGlyphs" stroke="#000" stroke-width="0.22">на 7k, 9k, 12k, 15k, 16k, 18k, 22k, 24k, 30k – 50T</text>
<text x="413.4" y="1040" font-size="15" textLength="276.4" lengthAdjust="spacingAndGlyphs" stroke="#000" stroke-width="0.22">при мощности 3,15 А, 250 В. Тип плавкого</text>
<text x="88.6" y="1060" font-size="15" textLength="663.6" lengthAdjust="spacingAndGlyphs" stroke="#000" stroke-width="0.22">предохранителя на 110 В, используемого в контроллере наружного блока для моделей на 7k, 9k, 12k</text>
<text x="88.6" y="1080" font-size="15" textLength="226.4" lengthAdjust="spacingAndGlyphs" stroke="#000" stroke-width="0.22">– 50T при мощности 3,15 А, 125 В.</text>
</g>
<g id="pageno">
<text x="32.7" y="1133.1" font-size="18.9" font-weight="bold" textLength="20.7" lengthAdjust="spacingAndGlyphs" stroke="#000" stroke-width="0.4">25</text>
<line x1="24.9" y1="1144.5" x2="56.8" y2="1144.5" stroke="#9a9a9f"/>
</g>
</svg>
</body>
</html>
